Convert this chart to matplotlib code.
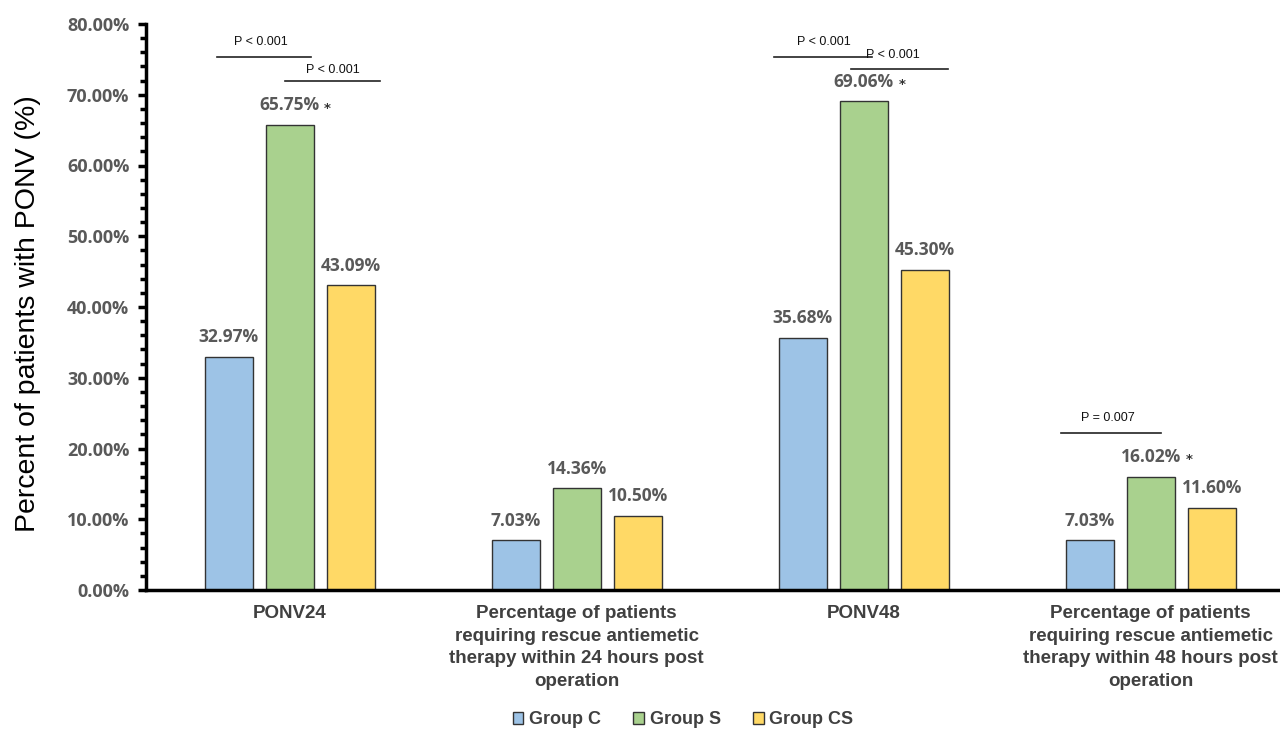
import matplotlib
matplotlib.use("Agg")
import matplotlib.pyplot as plt
import numpy as np
from matplotlib.ticker import MultipleLocator, FuncFormatter
from matplotlib.patches import Patch

# Datos del grafico
categorias = [
    "PONV24",
    "Percentage of patients\nrequiring rescue antiemetic\ntherapy within 24 hours post\noperation",
    "PONV48",
    "Percentage of patients\nrequiring rescue antiemetic\ntherapy within 48 hours post\noperation",
]
grupos = ["Group C", "Group S", "Group CS"]
grupo_c = [32.97, 7.03, 35.68, 7.03]
grupo_s = [65.75, 14.36, 69.06, 16.02]
grupo_cs = [43.09, 10.50, 45.30, 11.60]
asteriscos = [True, False, True, True]  # asterisco sobre Group S

# Comparaciones (x inicio, x fin, altura, texto, x texto, y texto)
comparaciones = [
    (-0.253, 0.075, 75.3, "P < 0.001", -0.10, 77.4),
    (-0.016, 0.315, 72.0, "P < 0.001", 0.15, 73.5),
    (1.688, 2.030, 75.3, "P < 0.001", 1.86, 77.4),
    (1.956, 2.294, 73.6, "P < 0.001", 2.10, 75.6),
    (2.688, 3.037, 22.2, "P = 0.007", 2.85, 24.3),
]

colores = ["#9DC3E6", "#A9D18E", "#FFD966"]
gris = "#595959"
fuente_num = ["Open Sans", "DejaVu Sans"]
fuente_cat = ["Liberation Sans Narrow", "Liberation Sans", "DejaVu Sans"]

fig = plt.figure(figsize=(12.8, 7.29), dpi=100)
ax = fig.add_axes([146 / 1280, 1 - 590 / 729, 1 - 146 / 1280, (590 - 24) / 729])

x = np.arange(len(categorias))
ancho = 0.167
desp = 0.2125
series = [grupo_c, grupo_s, grupo_cs]
for i, (vals, col) in enumerate(zip(series, colores)):
    pos = x + (i - 1) * desp
    ax.bar(pos, vals, width=ancho, color=col, edgecolor="#333333", linewidth=1, zorder=2)
    for px, v in zip(pos, vals):
        ax.annotate(f"{v:.2f}%", (px, v), xytext=(0, 14), textcoords="offset points",
                    ha="center", va="center", fontsize=12.5, fontweight="bold",
                    color=gris, family=fuente_num)

# asteriscos sobre Group S
for xi, v, a in zip(x, grupo_s, asteriscos):
    if a:
        ax.annotate("*", (xi, v), xytext=(25, 12), textcoords="offset points",
                    ha="left", va="center", fontsize=9.5, fontweight="bold", color="#333333")

# lineas de significancia
for x0, x1, yl, txt, xt, yt in comparaciones:
    ax.plot([x0, x1], [yl, yl], color="#222222", lw=1.2, clip_on=False, zorder=3)
    ax.text(xt, yt, txt, ha="center", va="center", fontsize=9, color="#111111",
            family=["Liberation Sans", "DejaVu Sans"])

ax.set_xlim(-0.5, 3.45)
ax.set_ylim(0, 80)
ax.yaxis.set_major_locator(MultipleLocator(10))
ax.yaxis.set_minor_locator(MultipleLocator(2))
ax.yaxis.set_major_formatter(FuncFormatter(lambda v, p: f"{v:.2f}%"))
ax.tick_params(axis="y", which="major", direction="out", length=6, width=2.5, labelsize=13,
               labelcolor=gris, pad=6)
ax.tick_params(axis="y", which="minor", direction="out", length=4, width=2.5)
for lab in ax.get_yticklabels():
    lab.set_fontweight("bold")
    lab.set_family(fuente_num)

ax.set_xticks(x)
ax.set_xticklabels(categorias, fontsize=13.5, fontweight="bold", color="#404040",
                   family=fuente_cat, linespacing=1.42)
ax.tick_params(axis="x", length=0, pad=11)

for s in ["top", "right"]:
    ax.spines[s].set_visible(False)
ax.spines["left"].set_linewidth(2.5)
ax.spines["bottom"].set_linewidth(2.5)

fig.text(28 / 1280, 1 - 314 / 729, "Percent of patients with PONV (%)", rotation=90,
         ha="center", va="center", fontsize=20.5, family=["Liberation Sans", "DejaVu Sans"])

handles = [Patch(facecolor=c, edgecolor="#333333", linewidth=1) for c in colores]
fig.legend(handles, grupos, loc="center", bbox_to_anchor=(683 / 1280, 1 - 720 / 729), ncol=3,
           frameon=False, handlelength=0.6, handleheight=0.6, handletextpad=0.3, columnspacing=1.8,
           prop={"family": fuente_cat, "weight": "bold", "size": 13})
for t in fig.legends[0].get_texts():
    t.set_color("#404040")

fig.savefig("out.png", dpi=100)
